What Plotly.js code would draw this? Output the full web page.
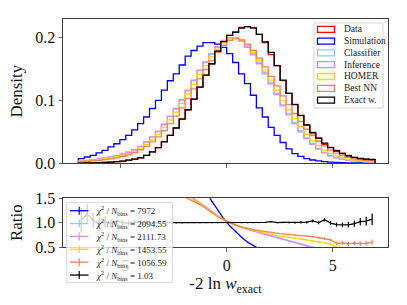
<!DOCTYPE html>
<html><head><meta charset="utf-8">
<script src="https://cdn.plot.ly/plotly-3.0.1.min.js"></script>
<style>html,body{margin:0;padding:0;background:#fff;}#chart{width:407px;height:305px;}</style>
</head><body><div id="chart"></div>
<script>
// ---------------- data ----------------
const binRange = [-7, 7];            // histogram range of -2 ln w_exact (50 bins)
const seriesNames = ['Data', 'Simulation', 'Classifier', 'Inference', 'HOMER', 'Best NN', 'Exact w.'];
const seriesColors = ['red', 'blue', 'lightskyblue', 'violet', 'gold', 'coral', 'black'];

const densData = [0.0004,0.00045,0.0007,0.001,0.0014,0.0019,0.0025,0.0036,0.0049,0.0065,
  0.0088,0.0125,0.018,0.025,0.0343,0.0444,0.0562,0.0705,0.085,0.102,0.121,0.140,0.158,0.178,0.193,
  0.203,0.208,0.2156,0.217,0.215,0.2045,0.1917,0.1725,0.155,0.1313,0.111,0.0935,0.0756,0.0604,0.0473,
  0.040,0.0302,0.0253,0.0203,0.0161,0.0124,0.0095,0.0075,0.0064,0.0056];
const densSim = [0.0075,0.010,0.0127,0.0165,0.0206,0.026,0.031,0.0375,0.0444,0.053,
  0.063,0.0735,0.087,0.100,0.116,0.131,0.142,0.156,0.170,0.179,0.186,0.1915,0.1915,0.189,0.184,
  0.174,0.160,0.142,0.1265,0.108,0.088,0.0735,0.057,0.0444,0.033,0.023,0.0155,0.011,0.0075,0.0052,
  0.0037,0.0027,0.002,0.0015,0.0011,0.0008,0.0006,0.0005,0.0004,0.0003];
const densClassifier = [0.0035,0.0044,0.0054,0.0066,0.008,0.0097,0.0118,0.0144,0.0175,0.0215,
  0.0265,0.0335,0.0415,0.050,0.061,0.074,0.086,0.100,0.115,0.131,0.147,0.160,0.173,0.184,0.194,
  0.199,0.1995,0.195,0.1855,0.174,0.160,0.1445,0.1285,0.111,0.093,0.079,0.065,0.052,0.0405,0.031,
  0.0235,0.0172,0.0126,0.0092,0.0068,0.0051,0.004,0.0032,0.0026,0.0021];
const densInference = [0.0037,0.0046,0.0056,0.0068,0.0083,0.010,0.0122,0.0148,0.0175,0.0215,
  0.027,0.034,0.042,0.051,0.062,0.075,0.087,0.101,0.116,0.132,0.148,0.161,0.174,0.185,0.195,
  0.199,0.1985,0.194,0.184,0.172,0.158,0.142,0.126,0.109,0.091,0.077,0.063,0.050,0.039,0.030,
  0.0225,0.0165,0.012,0.0088,0.0065,0.0049,0.0039,0.0031,0.0025,0.002];
const densHomer = [0.003,0.0037,0.0046,0.0057,0.007,0.0085,0.0104,0.0128,0.0155,0.019,
  0.024,0.030,0.037,0.046,0.057,0.069,0.081,0.095,0.110,0.125,0.141,0.155,0.169,0.181,0.191,
  0.197,0.199,0.1955,0.187,0.176,0.163,0.148,0.132,0.116,0.099,0.085,0.071,0.058,0.046,0.036,
  0.028,0.021,0.0158,0.0118,0.0088,0.0066,0.0051,0.0041,0.0034,0.0029];
const densBestNN = [0.0025,0.003,0.0037,0.0046,0.0057,0.007,0.0087,0.011,0.0135,0.017,
  0.0215,0.027,0.034,0.042,0.052,0.063,0.075,0.088,0.103,0.118,0.134,0.149,0.163,0.176,0.187,
  0.195,0.198,0.196,0.189,0.179,0.167,0.153,0.138,0.123,0.107,0.093,0.079,0.066,0.054,0.044,
  0.035,0.0275,0.021,0.016,0.0122,0.0093,0.0072,0.0058,0.0048,0.0042];
const densExact = [0.0004,0.0005,0.0007,0.001,0.0014,0.0019,0.0026,0.0036,0.0049,0.0066,
  0.0088,0.0125,0.018,0.025,0.034,0.0444,0.056,0.070,0.085,0.102,0.121,0.140,0.158,0.178,0.193,
  0.203,0.208,0.2146,0.217,0.215,0.2045,0.1926,0.176,0.155,0.132,0.111,0.093,0.076,0.061,0.049,
  0.040,0.032,0.025,0.0195,0.0154,0.0118,0.0093,0.0076,0.0066,0.006];

// ratio to data (bin centres)
const ratioSim = [18,16,14,12.5,11,9.8,8.7,7.8,7.0,6.3,5.6,5.0,4.5,4.0,3.6,3.25,2.95,2.7,2.5,2.2,
  1.9,1.66,1.44,1.25,1.08,0.935,0.81,0.70,0.60,0.52,0.445,0.38,0.32,0.27,0.22,0.18,0.145,0.115,0.09,0.07,
  0.055,0.042,0.032,0.025,0.02,0.016,0.013,0.011,0.009,0.008];
const ratioClassifier = [8.6,7.9,7.2,6.4,5.7,5.0,4.45,3.9,3.4,3.05,2.75,2.47,2.22,2.02,1.88,1.78,1.72,1.66,1.57,1.48,
  1.40,1.31,1.22,1.135,1.06,0.998,0.947,0.905,0.866,0.832,0.798,0.766,0.732,0.70,0.667,0.633,0.598,0.563,0.525,0.487,
  0.45,0.41,0.37,0.335,0.30,0.28,0.27,0.26,0.25,0.24];
const ratioInference = [9.0,8.2,7.4,6.6,5.9,5.2,4.6,4.0,3.5,3.1,2.8,2.5,2.25,2.05,1.9,1.82,1.75,1.68,1.58,1.49,
  1.41,1.32,1.23,1.14,1.065,1.0,0.945,0.90,0.86,0.825,0.79,0.757,0.72,0.69,0.655,0.62,0.585,0.55,0.51,0.47,
  0.43,0.39,0.35,0.31,0.28,0.26,0.25,0.24,0.23,0.22];
const ratioHomer = [7.5,6.9,6.3,5.7,5.1,4.5,4.0,3.55,3.15,2.8,2.5,2.25,2.07,1.95,1.85,1.76,1.68,1.6,1.53,1.46,
  1.39,1.30,1.215,1.13,1.06,1.0,0.95,0.905,0.87,0.84,0.81,0.785,0.76,0.735,0.715,0.70,0.68,0.665,0.648,0.625,
  0.605,0.585,0.56,0.49,0.46,0.44,0.42,0.40,0.39,0.38];
const ratioBestNN = [6.2,5.7,5.2,4.7,4.25,3.85,3.5,3.15,2.85,2.6,2.35,2.15,1.98,1.86,1.76,1.68,1.61,1.55,1.5,1.44,
  1.37,1.29,1.20,1.12,1.06,1.005,0.955,0.915,0.88,0.855,0.835,0.815,0.795,0.775,0.765,0.755,0.748,0.74,0.73,0.715,
  0.69,0.675,0.645,0.575,0.585,0.565,0.58,0.57,0.575,0.60];
const ratioExact = [1.05,1.18,1.05,0.97,1.02,0.98,1.03,1.0,0.99,1.01,1.0,0.995,1.0,1.005,0.99,1.0,1.0,0.995,1.0,1.0,
  1.0,1.0,1.0,0.998,1.0,1.0,1.0,0.995,1.0,1.0,1.0,1.005,1.02,1.0,1.005,1.0,0.995,1.005,1.01,1.035,
  1.0,1.06,0.99,0.96,0.955,0.955,0.98,1.02,1.03,1.07];
const errExact = [0.25,0.2,0.16,0.13,0.11,0.09,0.075,0.063,0.053,0.045,0.038,0.032,0.027,0.023,0.02,0.018,0.016,0.014,0.012,0.011,
  0.01,0.01,0.01,0.009,0.009,0.009,0.009,0.009,0.01,0.01,0.011,0.012,0.013,0.014,0.016,0.018,0.02,0.022,0.025,0.028,
  0.031,0.035,0.04,0.045,0.05,0.056,0.064,0.075,0.09,0.12];
const errReweighted = [0.3,0.25,0.2,0.16,0.13,0.1,0.08,0.065,0.05,0.04,0.03,0.025,0.02,0.016,0.013,0.011,0.01,0.009,0.008,0.007,
  0.006,0.006,0.006,0.006,0.006,0.006,0.006,0.006,0.006,0.006,0.007,0.007,0.008,0.008,0.009,0.01,0.012,0.014,0.016,0.018,
  0.02,0.024,0.028,0.04,0.04,0.045,0.045,0.05,0.05,0.055];
const chi2PerBin = ['7972', '2094.55', '2111.73', '1453.55', '1056.59', '1.03'];

// ---------------- build ----------------
const nB = densData.length;
const bw = (binRange[1] - binRange[0]) / nB;
const centres = densData.map((_, i) => binRange[0] + (i + 0.5) * bw);

function stepTrace(vals, color) {
  const xs = [binRange[0]], ys = [0];
  vals.forEach((v, i) => { xs.push(binRange[0] + i * bw); ys.push(v); });
  xs.push(binRange[1]); ys.push(0);
  return {x: xs, y: ys, type: 'scatter', mode: 'lines', xaxis: 'x', yaxis: 'y',
    line: {shape: 'hv', color: color, width: 1.3}, showlegend: false, hoverinfo: 'skip'};
}
function ratioTrace(vals, err, color) {
  return {x: centres, y: vals, type: 'scatter', mode: 'lines', xaxis: 'x2', yaxis: 'y2',
    line: {color: color, width: 1.3}, showlegend: false, hoverinfo: 'skip',
    error_y: {type: 'data', array: err, visible: true, width: 0, thickness: 1.2, color: color}};
}

const dens = [densData, densSim, densClassifier, densInference, densHomer, densBestNN, densExact];
const traces = dens.map((d, i) => stepTrace(d, seriesColors[i]));
const ratios = [ratioSim, ratioClassifier, ratioInference, ratioHomer, ratioBestNN, ratioExact];
const ratioErrs = [errReweighted, errReweighted, errReweighted, errReweighted, errReweighted, errExact];
ratios.forEach((r, i) => traces.push(ratioTrace(r, ratioErrs[i], seriesColors[i + 1])));

// geometry helpers (pixel -> paper)
const W = 407, H = 305, M = {l: 63, r: 19, t: 19, b: 58};
const PW = W - M.l - M.r, PH = H - M.t - M.b;
const px = x => (x - M.l) / PW;
const py = y => (H - M.b - y) / PH;

const FONT = 'Liberation Serif, Times New Roman, serif';
const shapes = [], annotations = [];

// upper legend
shapes.push({type: 'rect', xref: 'paper', yref: 'paper', x0: px(314), x1: px(383), y0: py(23), y1: py(108),
  fillcolor: 'rgba(255,255,255,0.8)', line: {color: 'rgb(215,215,215)', width: 1}, layer: 'above'});
seriesNames.forEach((nm, i) => {
  const yc = 29.3 + i * 11.8;
  shapes.push({type: 'rect', xref: 'paper', yref: 'paper', x0: px(317.5), x1: px(334.5), y0: py(yc + 3), y1: py(yc - 3),
    fillcolor: 'rgba(0,0,0,0)', line: {color: seriesColors[i], width: 1.3}, layer: 'above'});
  annotations.push({xref: 'paper', yref: 'paper', x: px(341.5), y: py(yc), xanchor: 'left', yanchor: 'middle',
    text: nm, showarrow: false, font: {family: FONT, size: 9.5, color: '#222'}});
});

// lower legend
shapes.push({type: 'rect', xref: 'paper', yref: 'paper', x0: px(66.7), x1: px(172.3), y0: py(202.7), y1: py(282.7),
  fillcolor: 'rgba(255,255,255,0.8)', line: {color: 'rgb(215,215,215)', width: 1}, layer: 'above'});
chi2PerBin.forEach((c, i) => {
  const yc = 210.7 + i * 12.87;
  const col = seriesColors[i + 1];
  shapes.push({type: 'line', xref: 'paper', yref: 'paper', x0: px(70), x1: px(88.5), y0: py(yc), y1: py(yc),
    line: {color: col, width: 1.3}, layer: 'above'});
  shapes.push({type: 'line', xref: 'paper', yref: 'paper', x0: px(79.2), x1: px(79.2), y0: py(yc - 4), y1: py(yc + 4),
    line: {color: col, width: 1.2}, layer: 'above'});
  annotations.push({xref: 'paper', yref: 'paper', x: px(94), y: py(yc), xanchor: 'left', yanchor: 'middle',
    text: '<i>χ</i><sup>2</sup> / <i>N</i><sub>bins</sub> = ' + c, showarrow: false,
    font: {family: FONT, size: 9, color: '#222'}});
});

const axLine = 'rgb(60,60,60)';
const common = {showgrid: false, zeroline: false, showline: true, linecolor: axLine, linewidth: 1, mirror: true,
  ticks: 'outside', ticklen: 3.5, tickwidth: 0.8, tickcolor: axLine, tickfont: {family: FONT, size: 16, color: '#111'}};
const topDomain = [py(163.3), 1];
const botDomain = [0, py(198.3)];
const xr = [(63 - 226.7) / 21.2, (388 - 226.7) / 21.2];

const layout = {
  width: W, height: H, margin: M, paper_bgcolor: '#fff', plot_bgcolor: '#fff', showlegend: false,
  font: {family: FONT},
  xaxis: Object.assign({}, common, {domain: [0, 1], anchor: 'y', range: xr, tickvals: [-5, 0, 5], showticklabels: false}),
  yaxis: Object.assign({}, common, {domain: topDomain, anchor: 'x', range: [0, 0.229], tickvals: [0, 0.1, 0.2],
    ticktext: ['0.0', '0.1', '0.2'], title: {text: 'Density', font: {family: FONT, size: 17, color: '#111'}, standoff: 8}}),
  xaxis2: Object.assign({}, common, {domain: [0, 1], anchor: 'y2', range: xr, matches: 'x', tickvals: [-5, 0, 5],
    ticktext: ['−5', '0', '5'],
    title: {text: '-2 ln <i>w</i><sub>exact</sub>', font: {family: FONT, size: 17, color: '#111'}, standoff: 4}}),
  yaxis2: Object.assign({}, common, {domain: botDomain, anchor: 'x2', range: [0.5, 1.5], tickvals: [0.5, 1, 1.5],
    ticktext: ['0.5', '1.0', '1.5'], title: {text: 'Ratio', font: {family: FONT, size: 17, color: '#111'}, standoff: 8}}),
  shapes: shapes, annotations: annotations
};

Plotly.newPlot('chart', traces, layout, {staticPlot: true, displayModeBar: false});
</script></body></html>
